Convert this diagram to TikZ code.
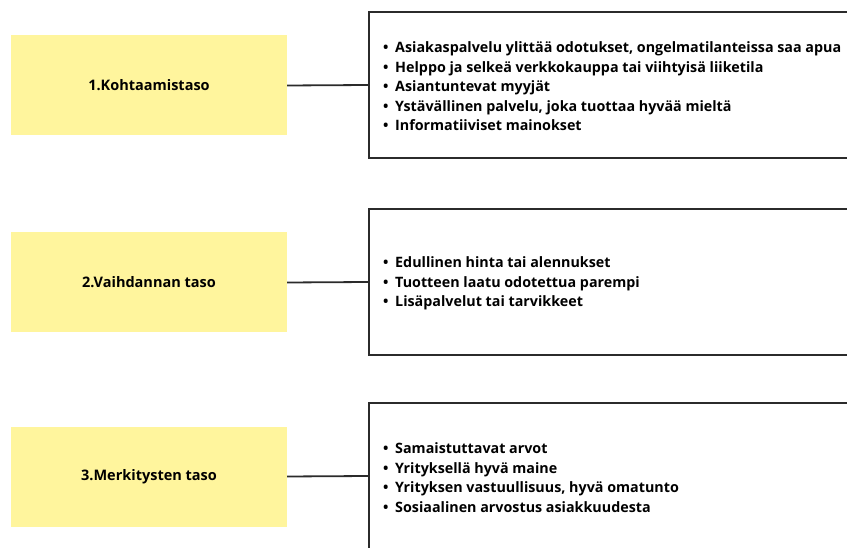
\documentclass[tikz,border=0pt]{standalone}
\usepackage{fontspec}
\setmainfont{Open Sans}
\usetikzlibrary{positioning}

\newcommand{\itm}[1]{\makebox[12pt][l]{\textbullet}#1}

\begin{document}
\begin{tikzpicture}[x=1pt, y=-1pt]
    % Define colours
    \definecolor{levelColour}{HTML}{FFF59D}
    \definecolor{borderColour}{HTML}{2B2B2B}

    \tikzset{
        level/.style={fill=levelColour, minimum width=276pt, minimum height=100pt, inner sep=0pt,
            font=\bfseries\fontsize{14.5}{17}\selectfont},
        frame/.style={draw=borderColour, line width=1.8pt, minimum width=540pt, minimum height=146pt,
            inner sep=0pt, anchor=west},
        listtext/.style={align=left, inner sep=0pt, anchor=west, yshift=-1.5pt,
            font=\bfseries\fontsize{14.3}{19.5}\selectfont},
        link/.style={draw=borderColour, line width=1.8pt}
    }

    % Fix the picture size
    \useasboundingbox (0,0) rectangle (847,548);
    \clip (0,0) rectangle (847,548);

    % Draw the levels
    \node[level] (level1) at (149,85.5) {1.Kohtaamistaso};
    \node[level] (level2) at (149,282.5) {2.Vaihdannan taso};
    \node[level] (level3) at (149,476.5) {3.Merkitysten taso};

    % Draw the frames
    \node[frame] (frame1) at (368,85) {};
    \node[frame] (frame2) at (368,282) {};
    \node[frame] (frame3) at (368,476) {};

    % Draw the lists
    \node[listtext, right=15pt of frame1.west] (list1) {%
        \itm{Asiakaspalvelu ylittää odotukset, ongelmatilanteissa saa apua}\\
        \itm{Helppo ja selkeä verkkokauppa tai viihtyisä liiketila}\\
        \itm{Asiantuntevat myyjät}\\
        \itm{Ystävällinen palvelu, joka tuottaa hyvää mieltä}\\
        \itm{Informatiiviset mainokset}};
    \node[listtext, right=15pt of frame2.west] (list2) {%
        \itm{Edullinen hinta tai alennukset}\\
        \itm{Tuotteen laatu odotettua parempi}\\
        \itm{Lisäpalvelut tai tarvikkeet}};
    \node[listtext, right=15pt of frame3.west] (list3) {%
        \itm{Samaistuttavat arvot}\\
        \itm{Yrityksellä hyvä maine}\\
        \itm{Yrityksen vastuullisuus, hyvä omatunto}\\
        \itm{Sosiaalinen arvostus asiakkuudesta}};

    % Draw the links
    \foreach \i in {1,2,3}
        \draw[link] (level\i.east) -- (frame\i.west);
\end{tikzpicture}
\end{document}
